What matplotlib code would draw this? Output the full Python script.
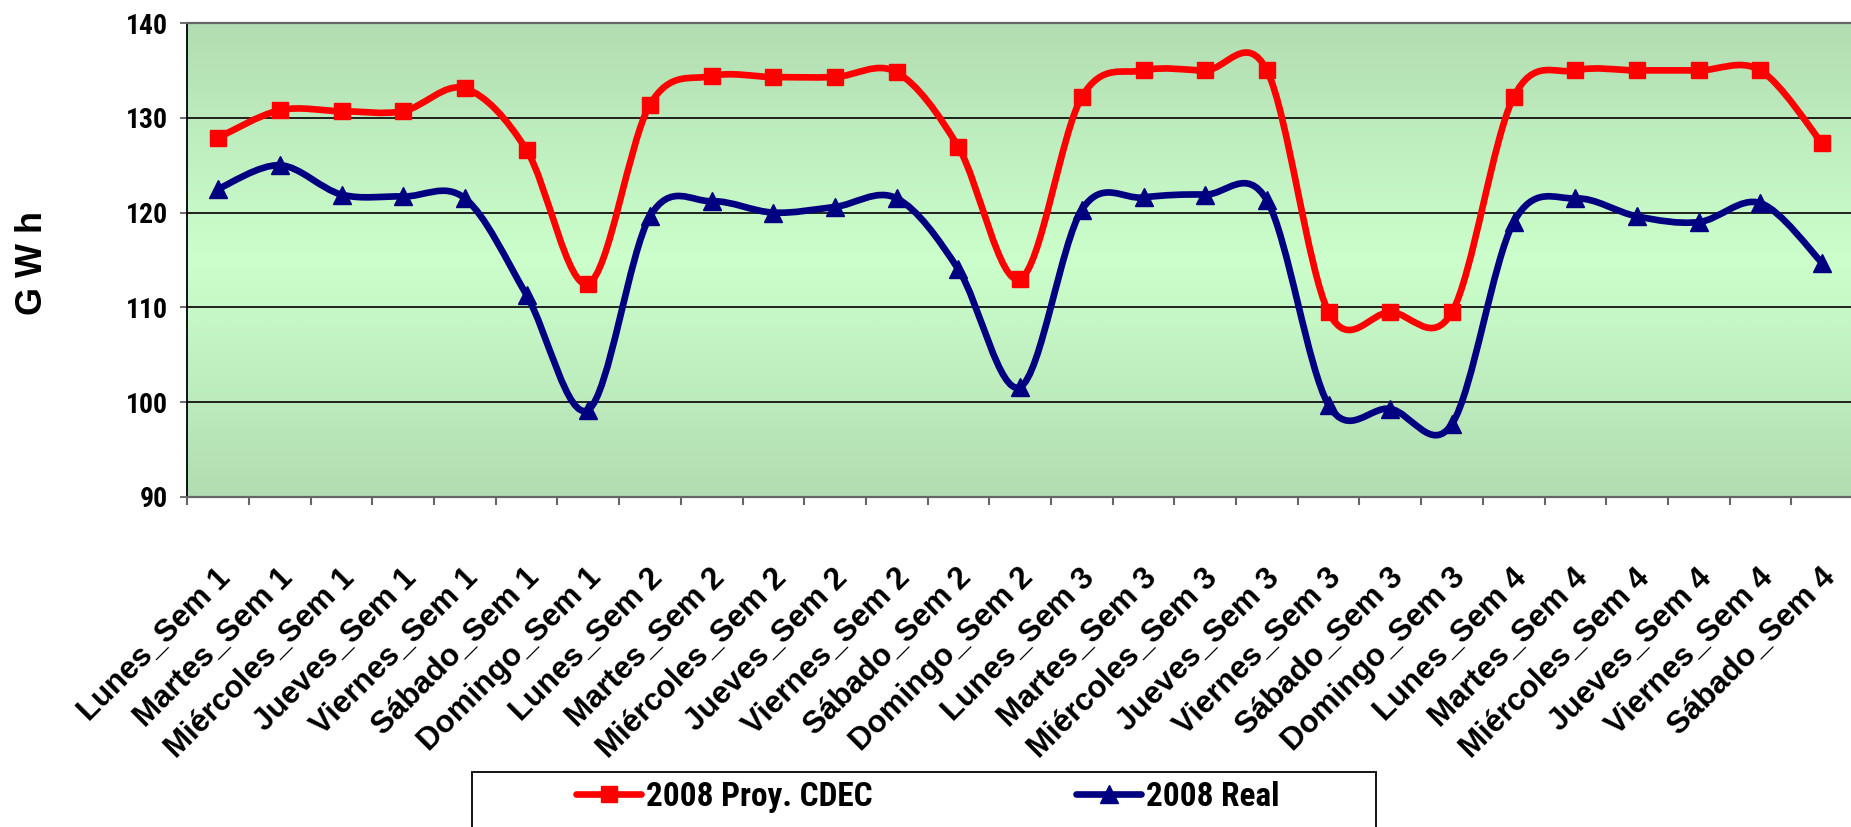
import numpy as np
import matplotlib
matplotlib.use("Agg")
import matplotlib.pyplot as plt
from matplotlib.path import Path
from matplotlib.patches import PathPatch, Rectangle
from matplotlib.lines import Line2D
import matplotlib.transforms as mtransforms
import matplotlib.font_manager as fm

# ---------------- data ----------------
categories = [
    "Lunes_Sem 1", "Martes_Sem 1", "Miércoles_Sem 1", "Jueves_Sem 1",
    "Viernes_Sem 1", "Sábado_Sem 1", "Domingo_Sem 1",
    "Lunes_Sem 2", "Martes_Sem 2", "Miércoles_Sem 2", "Jueves_Sem 2",
    "Viernes_Sem 2", "Sábado_Sem 2", "Domingo_Sem 2",
    "Lunes_Sem 3", "Martes_Sem 3", "Miércoles_Sem 3", "Jueves_Sem 3",
    "Viernes_Sem 3", "Sábado_Sem 3", "Domingo_Sem 3",
    "Lunes_Sem 4", "Martes_Sem 4", "Miércoles_Sem 4", "Jueves_Sem 4",
    "Viernes_Sem 4", "Sábado_Sem 4",
]
proy_cdec = [127.9, 130.8, 130.7, 130.7, 133.1, 126.6, 112.5,
             131.4, 134.4, 134.3, 134.3, 134.8, 126.9, 113.0,
             132.2, 135.0, 135.0, 135.0, 109.5, 109.5, 109.5,
             132.2, 135.0, 135.0, 135.0, 135.0, 127.3]
real = [122.5, 125.0, 121.9, 121.7, 121.5, 111.3, 99.2,
        119.6, 121.2, 120.0, 120.6, 121.5, 114.0, 101.6,
        120.3, 121.6, 121.9, 121.3, 99.7, 99.3, 97.7,
        119.0, 121.5, 119.6, 119.0, 121.0, 114.7]
series_names = ["2008 Proy. CDEC", "2008 Real"]
y_ticks = [90, 100, 110, 120, 130, 140]
y_label = "G W h"

# ---------------- fonts ----------------
RED = "#FF0000"
NAVY = "#000080"
ttf = fm.fontManager.ttflist
names = {f.name for f in ttf}
narrow_family = None
narrow_stretch = "normal"
for nm in ["Liberation Sans Narrow", "Arial Narrow", "Roboto Condensed",
           "Open Sans Condensed", "DejaVu Sans Condensed"]:
    if nm in names:
        narrow_family = nm
        break
if narrow_family is None:
    for pref in ["Liberation Sans", "Roboto", "Open Sans", "Noto Sans",
                 "DejaVu Sans"]:
        if any(f.name == pref and str(f.stretch) in
               ("condensed", "semi-condensed", "extra-condensed")
               for f in ttf):
            narrow_family = pref
            narrow_stretch = "condensed"
            break
if narrow_family is not None:
    narrow = fm.FontProperties(family=[narrow_family, "Liberation Sans"],
                               weight="bold", stretch=narrow_stretch)
else:
    narrow = fm.FontProperties(family=["Liberation Sans", "DejaVu Sans"],
                               weight="bold")
wide = fm.FontProperties(family=["Liberation Sans", "DejaVu Sans"],
                         weight="bold")

W, H = 1851, 827
fig = plt.figure(figsize=(W / 100, H / 100), dpi=100)
fig.patch.set_facecolor("white")
renderer = fig.canvas.get_renderer()


def fitted_size(text, prop, target, dim="w", rotation=0, start=20.0):
    """Font size (pt) making the text's rendered extent equal target px."""
    p = prop.copy()
    p.set_size(start)
    tmp = fig.text(0, 0, text, fontproperties=p, rotation=rotation)
    size = start
    for _ in range(3):
        bb = tmp.get_window_extent(renderer)
        cur = bb.width if dim == "w" else bb.height
        size = size * target / cur
        tmp.set_fontsize(size)
    tmp.remove()
    return size


ytick_size = fitted_size("140", narrow, 42, "w")
legend_size = fitted_size(series_names[0], narrow, 227, "w")
ylab_size = fitted_size(y_label, wide, 104, "h", rotation=90)
xtick_size = fitted_size("Miércoles_Sem 1", wide, 254, "w")

x0, x1 = 187.3, 1853.0
ytop, ybot = 23.0, 497.0
ax = fig.add_axes([x0 / W, 1 - ybot / H, (x1 - x0) / W, (ybot - ytop) / H])

# gradient background (edges darker, centre lighter)
edge = np.array([178, 221, 178]) / 255.0
centre = np.array([204, 255, 204]) / 255.0
t = np.linspace(0, 1, 256)
w = 1 - np.abs(2 * t - 1)
grad = edge[None, :] * (1 - w[:, None]) + centre[None, :] * w[:, None]
grad = np.repeat(grad[:, None, :], 2, axis=1)
ax.imshow(grad, extent=[0, 1, 0, 1], transform=ax.transAxes, aspect="auto",
          origin="lower", zorder=0, interpolation="bilinear")


def smooth_path(xs, ys):
    pts = np.column_stack([xs, ys]).astype(float)
    n = len(pts)
    verts = [pts[0]]
    codes = [Path.MOVETO]
    for i in range(n - 1):
        p_prev = pts[i - 1] if i > 0 else pts[i]
        p0 = pts[i]
        p1 = pts[i + 1]
        p_next = pts[i + 2] if i + 2 < n else pts[i + 1]
        c1 = p0 + (p1 - p_prev) / 6.0
        c2 = p1 - (p_next - p0) / 6.0
        verts += [c1, c2, p1]
        codes += [Path.CURVE4] * 3
    return Path(verts, codes)


xs = np.arange(len(categories))
for vals, col, mk, ms in [(proy_cdec, RED, "s", 11.5), (real, NAVY, "^", 13.5)]:
    patch = PathPatch(smooth_path(xs, vals), facecolor="none", edgecolor=col,
                      lw=4.8, capstyle="round", joinstyle="round", zorder=3)
    ax.add_patch(patch)
    ax.plot(xs, vals, ls="none", marker=mk, ms=ms, color=col, mec=col, zorder=4)

ax.set_xlim(-0.5, len(categories) - 0.5)
ax.set_ylim(90, 140)

# y axis
yprop = narrow.copy()
yprop.set_size(ytick_size)
ax.set_yticks(y_ticks)
ax.set_yticklabels([str(v) for v in y_ticks], fontproperties=yprop)
ax.tick_params(axis="y", direction="out", length=5, width=1.2, color="#555555",
               pad=9)
ax.yaxis.grid(True, color="#111111", lw=1.3, zorder=1)
gl = ax.get_ygridlines()
gl[0].set_visible(False)
gl[-1].set_visible(False)
ax.set_axisbelow(False)

# x axis
xprop = wide.copy()
xprop.set_size(xtick_size)
ax.set_xticks(xs)
ax.set_xticklabels(categories, rotation=45, ha="right", va="center",
                   rotation_mode="anchor", fontproperties=xprop)
ax.tick_params(axis="x", which="major", length=0, pad=55)
ax.set_xticks(np.arange(-0.5, len(categories), 1.0), minor=True)
ax.tick_params(axis="x", which="minor", direction="out", length=6, width=1.5,
               color="#666666")
offset = mtransforms.ScaledTranslation(6 / 72, 0, fig.dpi_scale_trans)
for lab in ax.get_xticklabels():
    lab.set_transform(lab.get_transform() + offset)

for s in ["top", "bottom"]:
    ax.spines[s].set_color("#666666")
    ax.spines[s].set_linewidth(1.6)
ax.spines["left"].set_color("#000000")
ax.spines["left"].set_linewidth(1.3)
ax.spines["right"].set_visible(False)
for sp in ax.spines.values():
    sp.set_zorder(5)

# y label
ylab_prop = wide.copy()
ylab_prop.set_size(ylab_size)
fig.text(32 / W, 1 - 263 / H, y_label, rotation=90, ha="center", va="center",
         fontproperties=ylab_prop)

# legend frame
fig.patches.append(Rectangle((472 / W, -0.05), (1376 - 472) / W,
                             (1 - 772 / H) + 0.05, transform=fig.transFigure,
                             facecolor="white", edgecolor="black", lw=1.3,
                             zorder=0))

handles = [Line2D([], [], color=RED, lw=4.8, marker="s", ms=11.5,
                  solid_capstyle="round"),
           Line2D([], [], color=NAVY, lw=4.8, marker="^", ms=13.5,
                  solid_capstyle="round")]
prop = narrow.copy()
prop.set_size(legend_size)
for h, name, hx in zip(handles, series_names, [576, 1076]):
    fig.legend([h], [name], loc="center left",
               bbox_to_anchor=(hx / W, 1 - 797 / H),
               bbox_transform=fig.transFigure, frameon=False,
               borderpad=0, borderaxespad=0,
               handlelength=65 / (legend_size * 100 / 72),
               handletextpad=5 / (legend_size * 100 / 72),
               numpoints=1, prop=prop)

fig.savefig("out.png", dpi=100, facecolor="white")
